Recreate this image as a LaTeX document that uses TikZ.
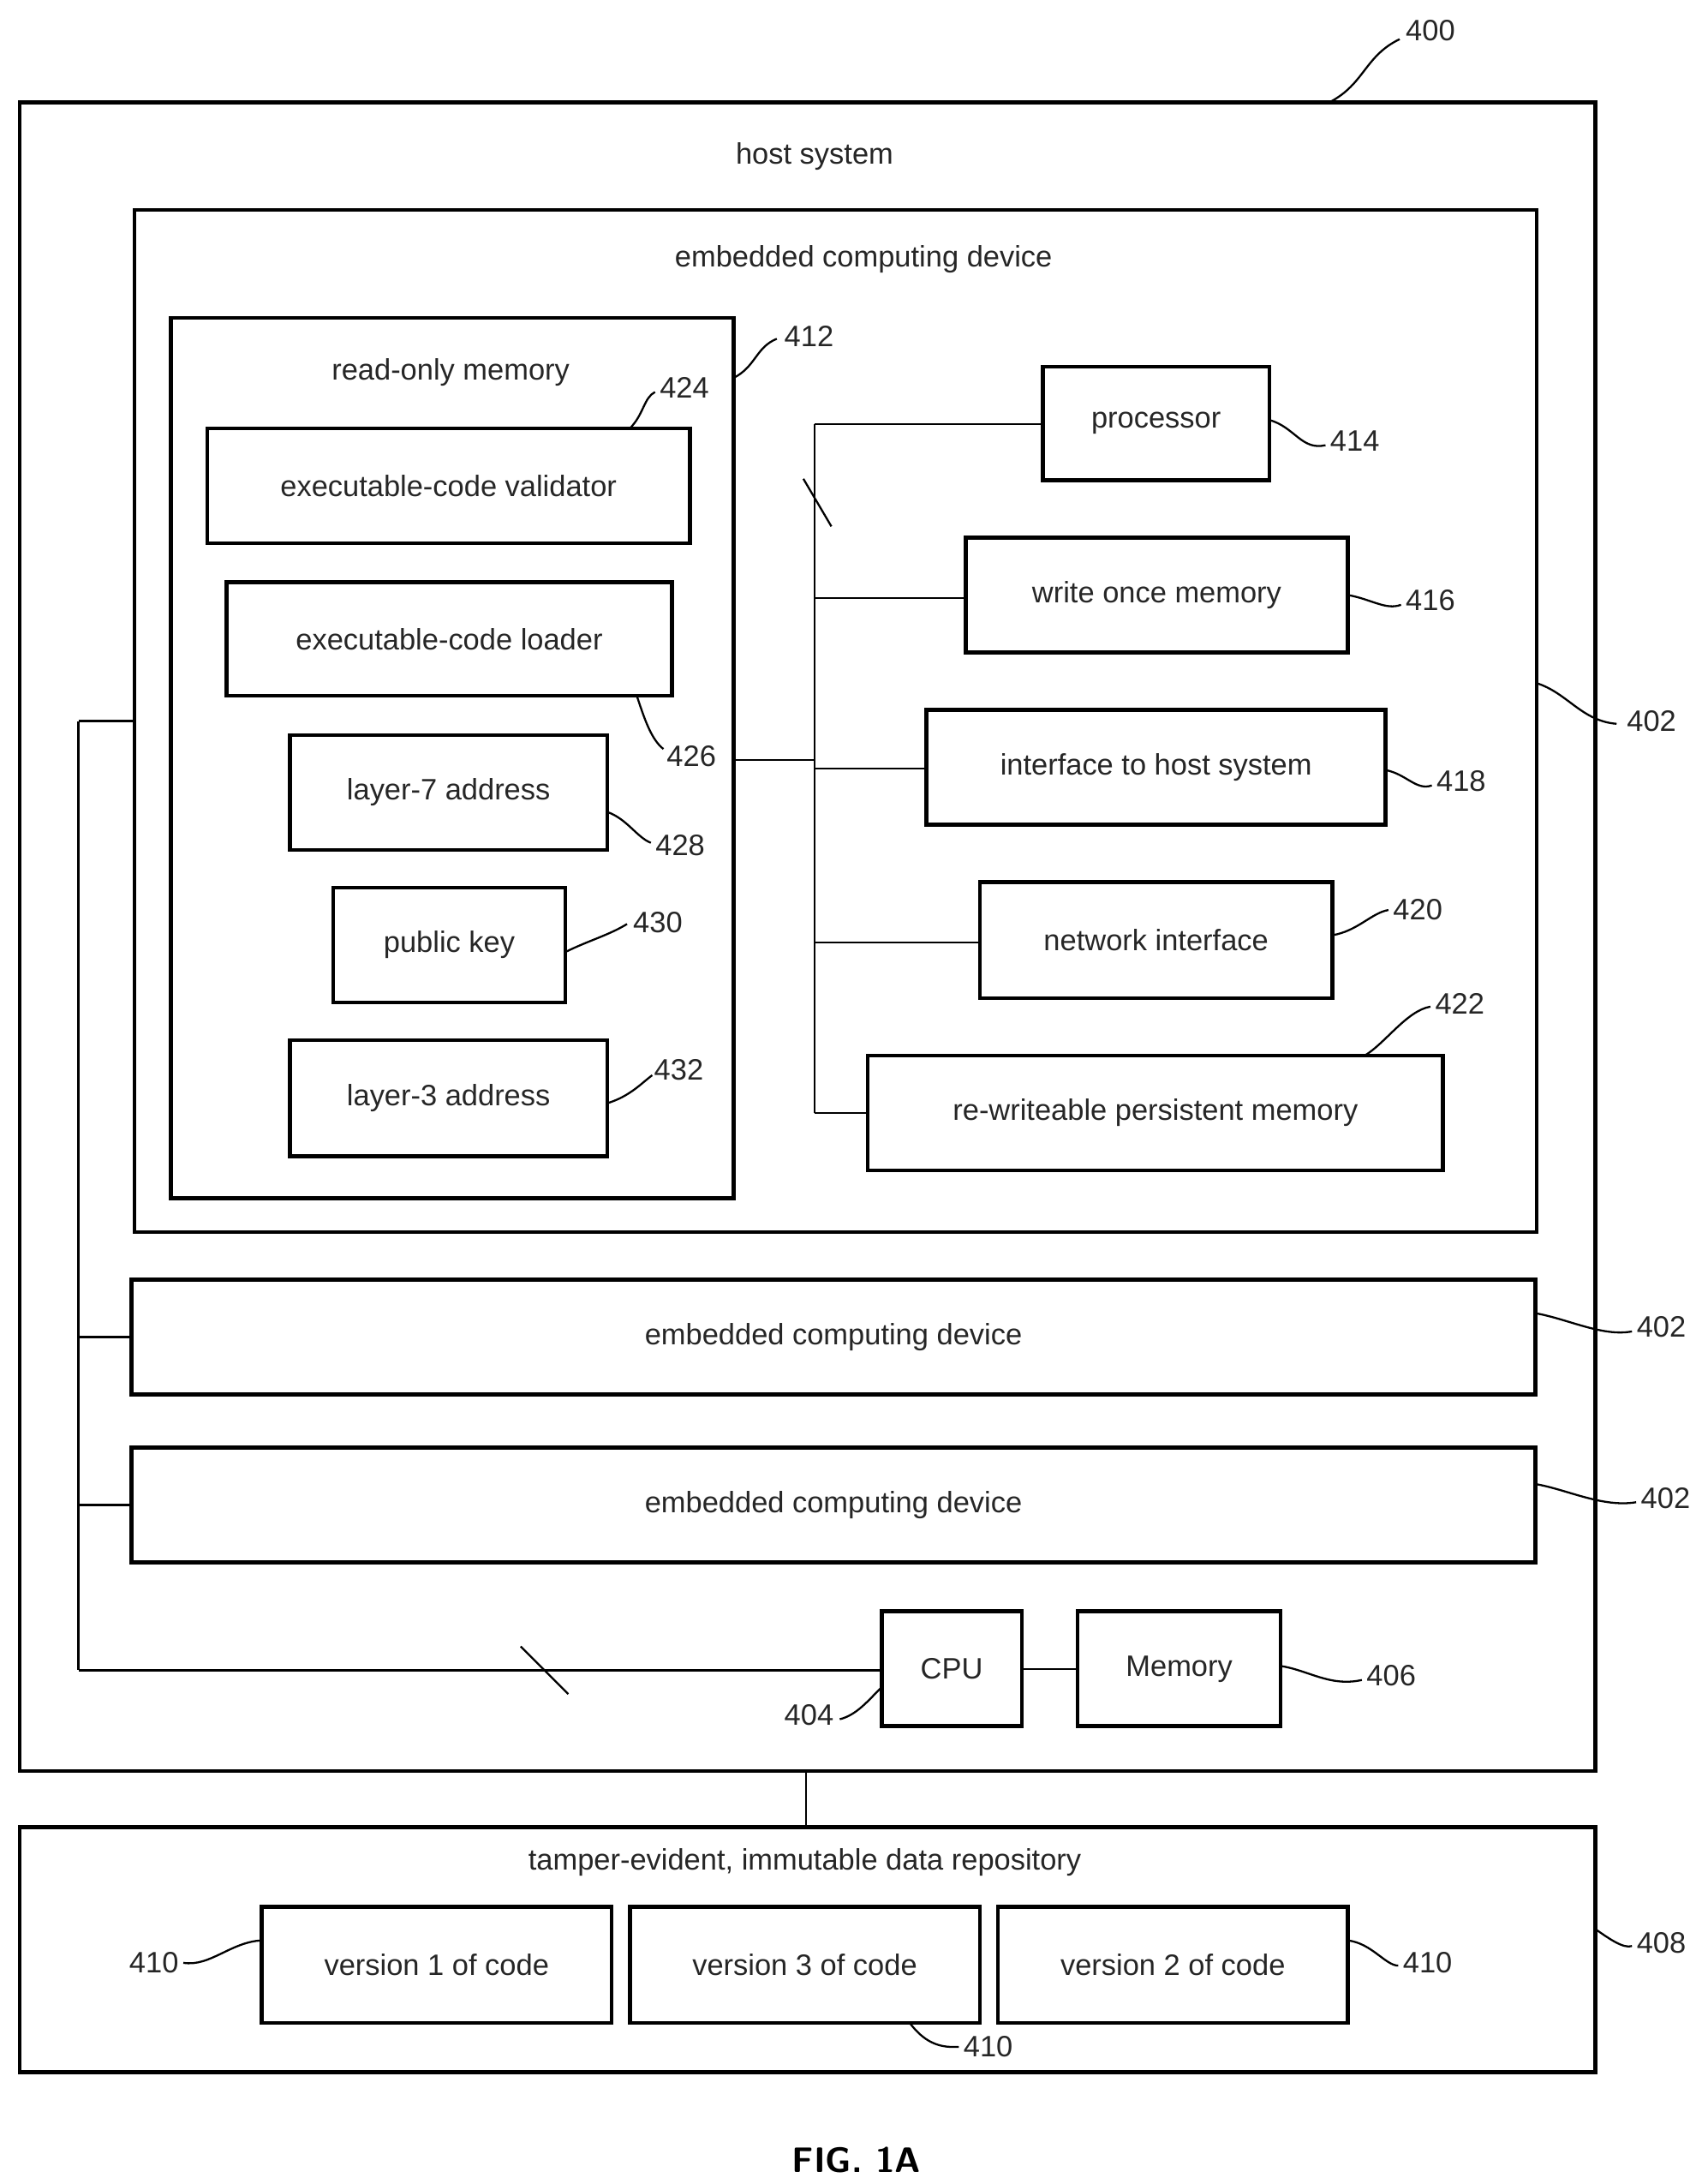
\documentclass[tikz,border=0pt]{standalone}
\usepackage{fontspec}
\setmainfont{Liberation Sans}
\usetikzlibrary{fit}
\begin{document}
\begin{tikzpicture}[x=0.05cm,y=-0.05cm,
 bx/.style={draw,line width=4pt,inner sep=0pt},
 lbl/.style={font=\fontsize{30}{36}\selectfont,text=black!85},
 num/.style={font=\fontsize{30}{36}\selectfont,inner sep=1pt,text=black!85},
 ln/.style={line width=2pt},
 ld/.style={line width=2pt}]
\useasboundingbox (0,0) rectangle (1216,1560);
\newcommand{\bbox}[6]{\node[bx,fit={(#2,#3)(#4,#5)},label={[lbl]center:#6}] (#1) {};}
% containers
\node[bx,fit={(14,73)(1140,1265)}] (host) {};
\node[lbl] (th) at (582,112) {host system};
\node[bx,fit={(96,150)(1098,880)}] (ecd) {};
\node[lbl] (te) at (617,185) {embedded computing device};
\node[bx,fit={(122,227)(524,856)}] (rom) {};
\node[lbl] (tr) at (322,266) {read-only memory};
% rom contents
\bbox{val}{148}{306}{493}{388}{executable-code validator}
\bbox{ldr}{162}{416}{480}{497}{executable-code loader}
\bbox{l7}{207}{525}{434}{607}{layer-7 address}
\bbox{pk}{238}{634}{404}{716}{public key}
\bbox{l3}{207}{743}{434}{826}{layer-3 address}
% right side
\bbox{proc}{745}{262}{907}{343}{processor}
\bbox{wom}{690}{384}{963}{466}{write once memory}
\bbox{ifh}{662}{507}{990}{589}{interface to host system}
\bbox{net}{700}{630}{952}{713}{network interface}
\bbox{rpm}{620}{754}{1031}{836}{re-writeable persistent memory}
\bbox{ecd2}{94}{914}{1097}{996}{embedded computing device}
\bbox{ecd3}{94}{1034}{1097}{1116}{embedded computing device}
\bbox{cpu}{630}{1151}{730}{1233}{CPU}
\bbox{mem}{770}{1151}{915}{1233}{Memory}
% repository
\node[bx,fit={(14,1305)(1140,1480)}] (repo) {};
\node[lbl] (trp) at (575,1330) {tamper-evident, immutable data repository};
\bbox{v1}{187}{1362}{437}{1445}{version 1 of code}
\bbox{v3}{450}{1362}{700}{1445}{version 3 of code}
\bbox{v2}{713}{1362}{963}{1445}{version 2 of code}
% internal bus
\coordinate (bt) at (582,303);
\coordinate (bb) at (582,795);
\draw[ln] (bt) -- (bb);
\draw[ln] (rom.east |- 0,543) -- (582,543);
\draw[ln] (bt) -- (proc.west |- bt);
\draw[ln] (582,427) -- (wom.west |- 0,427);
\draw[ln] (582,549) -- (ifh.west |- 0,549);
\draw[ln] (582,673) -- (net.west |- 0,673);
\draw[ln] (bb) -- (rpm.west |- bb);
\draw[ln] (574,342) -- (594,376);
% outer bus
\coordinate (ot) at (56,515);
\coordinate (ob) at (56,1193);
\draw[ln] (ot) -- (ob);
\draw[ln] (ot) -- (ecd.west |- ot);
\draw[ln] (56,955) -- (ecd2.west |- 0,955);
\draw[ln] (56,1075) -- (ecd3.west |- 0,1075);
\draw[ln] (ob) -- (cpu.west |- ob);
\draw[ln] (372,1176) -- (406,1210);
\draw[ln] (cpu.east |- 0,1192) -- (mem.west |- 0,1192);
\draw[ln] (host.south -| 576,0) -- (repo.north -| 576,0);
% reference numerals
\node[num] (n400) at (1022,22) {400};
\draw[ld] (950,73) .. controls (975,60) and (975,40) .. (1000,28);
\node[num] (n402a) at (1180,515) {402};
\draw[ld] (1098,488) .. controls (1120,495) and (1130,515) .. (1155,517);
\node[num] (n412) at (578,240) {412};
\draw[ld] (524,270) .. controls (540,262) and (540,248) .. (555,242);
\node[num] (n424) at (489,277) {424};
\draw[ld] (450,306) .. controls (460,296) and (460,284) .. (468,280);
\node[num] (n426) at (494,540) {426};
\draw[ld] (455,497) .. controls (460,512) and (465,528) .. (474,535);
\node[num] (n428) at (486,604) {428};
\draw[ld] (434,580) .. controls (448,585) and (455,598) .. (465,602);
\node[num] (n430) at (470,659) {430};
\draw[ld] (404,680) .. controls (420,672) and (435,668) .. (448,660);
\node[num] (n432) at (485,764) {432};
\draw[ld] (434,788) .. controls (450,783) and (458,774) .. (466,768);
\node[num] (n414) at (968,315) {414};
\draw[ld] (907,300) .. controls (925,305) and (930,322) .. (947,318);
\node[num] (n416) at (1022,429) {416};
\draw[ld] (963,425) .. controls (980,428) and (990,436) .. (1001,432);
\node[num] (n418) at (1044,558) {418};
\draw[ld] (990,550) .. controls (1005,553) and (1012,565) .. (1023,561);
\node[num] (n420) at (1013,650) {420};
\draw[ld] (952,668) .. controls (970,665) and (980,652) .. (992,650);
\node[num] (n422) at (1043,717) {422};
\draw[ld] (975,754) .. controls (990,745) and (1005,722) .. (1022,719);
\node[num] (n402b) at (1187,948) {402};
\draw[ld] (1097,938) .. controls (1120,942) and (1145,955) .. (1166,951);
\node[num] (n402c) at (1190,1070) {402};
\draw[ld] (1097,1060) .. controls (1120,1064) and (1145,1077) .. (1169,1073);
\node[num] (n404) at (578,1225) {404};
\draw[ld] (630,1205) .. controls (620,1215) and (612,1225) .. (600,1228);
\node[num] (n406) at (994,1197) {406};
\draw[ld] (915,1190) .. controls (935,1193) and (950,1205) .. (973,1200);
\node[num] (n408) at (1187,1388) {408};
\draw[ld] (1140,1378) .. controls (1150,1385) and (1160,1392) .. (1166,1390);
\node[num] (n410a) at (110,1402) {410};
\draw[ld] (131,1402) .. controls (150,1405) and (165,1387) .. (187,1386);
\node[num] (n410b) at (706,1462) {410};
\draw[ld] (650,1445) .. controls (660,1458) and (670,1463) .. (685,1462);
\node[num] (n410c) at (1020,1402) {410};
\draw[ld] (963,1386) .. controls (980,1388) and (990,1404) .. (999,1404);
\node[font=\sffamily\bfseries\fontsize{36}{40}\selectfont] (fig) at (612,1543) {FIG. 1A};
\end{tikzpicture}
\end{document}
